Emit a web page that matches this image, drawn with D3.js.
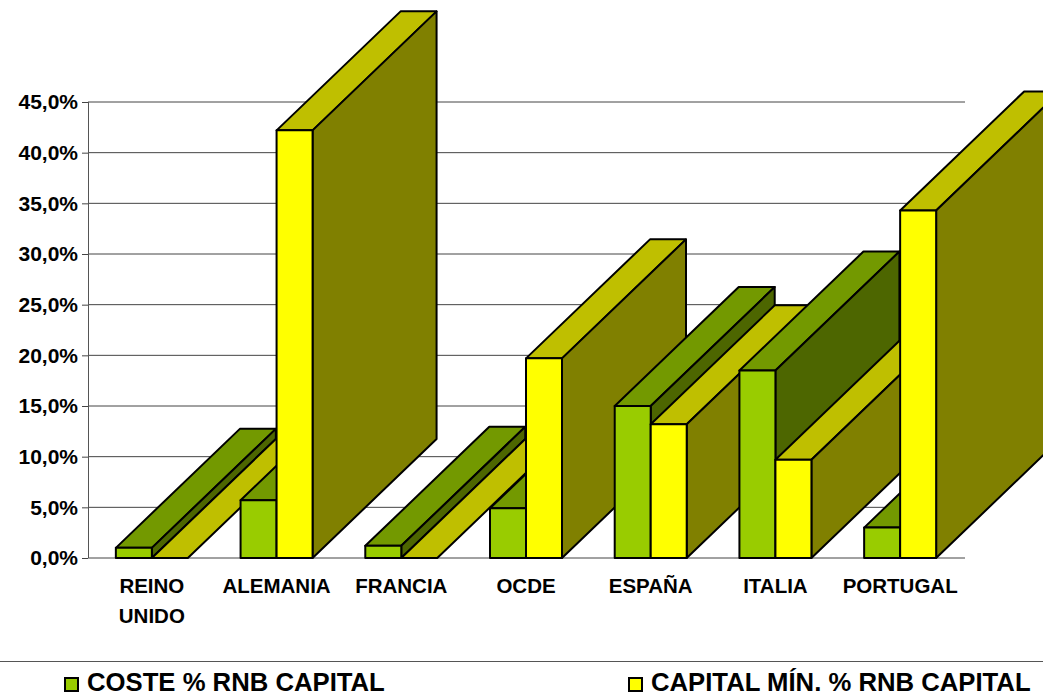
<!DOCTYPE html>
<html>
<head>
<meta charset="utf-8">
<script src="https://d3js.org/d3.v7.min.js"></script>
<style>
html, body { margin: 0; padding: 0; background: #fff; overflow: hidden; }
text { font-family: "Liberation Sans", Arial, sans-serif; font-weight: bold; fill: #000; }
</style>
</head>
<body>
<div id="chart-area"></div>
<script>
// values
let categories = ["REINO UNIDO", "ALEMANIA", "FRANCIA", "OCDE", "ESPAÑA", "ITALIA", "PORTUGAL"];
let coste = [1.0, 5.7, 1.2, 4.9, 15.0, 18.5, 3.0];
let capital = [0, 42.2, 0, 19.7, 13.2, 9.7, 34.3];
let seriesNames = ["COSTE % RNB CAPITAL", "CAPITAL MÍN. % RNB CAPITAL"];
let yTicks = [0, 5, 10, 15, 20, 25, 30, 35, 40, 45];

let colors = [
    { front: "#99cc00", top: "#739900", side: "#4d6600" },
    { front: "#ffff00", top: "#bfbf00", side: "#808000" }
];

let width = 1043, height = 696;
let depthX = 124, depthY = 119;

let svg = d3.select("#chart-area")
            .append("svg")
            .attr("width", width)
            .attr("height", height)
            .style("display", "block");

let x = d3.scaleBand()
        .domain(categories)
        .range([89.5, 962.5]);

let inner = d3.scaleBand()
        .domain([0, 1])
        .range([0, 72]);

let y = d3.scaleLinear()
        .domain([0, 45])
        .range([558, 102]);

let decimalComma = d3.formatLocale({ decimal: ",", thousands: ".", grouping: [3], currency: ["", "€"] });

// grid
svg.append("g")
    .selectAll("line")
    .data(yTicks)
    .enter()
    .append("line")
    .attr("x1", 88)
    .attr("x2", 965)
    .attr("y1", d => y(d))
    .attr("y2", d => y(d))
    .attr("stroke", "#444")
    .attr("stroke-width", 1);

// y axis
let yAxis = d3.axisLeft(y)
        .tickValues(yTicks)
        .tickSize(6)
        .tickPadding(4)
        .tickFormat(d => decimalComma.format(".1f")(d) + "%");

let yG = svg.append("g")
        .attr("transform", "translate(88,0)")
        .call(yAxis);

yG.select(".domain").attr("stroke", "#555").attr("d", `M0.5,${y(45)}V${y(0)}`);
yG.selectAll(".tick line").attr("stroke", "#444");
yG.selectAll(".tick text")
    .attr("font-size", 21)
    .attr("font-family", "Liberation Sans")
    .attr("font-weight", "bold")
    .attr("fill", "#000");

// x labels
let xLabels = svg.append("g")
        .selectAll("text")
        .data(categories)
        .enter()
        .append("text")
        .attr("text-anchor", "middle")
        .attr("font-size", 20.5);

xLabels.each(function(d) {
    let words = d === "REINO UNIDO" ? d.split(" ") : [d];
    let label = d3.select(this);
    words.forEach((w, i) => {
        label.append("tspan")
            .attr("x", x(d) + x.bandwidth() / 2)
            .attr("y", 593 + i * 30)
            .text(w);
    });
});

// bars, left to right so later ones cover earlier ones
let bars = [];
categories.forEach((c, i) => {
    bars.push({ cat: c, s: 0, value: coste[i] });
    bars.push({ cat: c, s: 1, value: capital[i] });
});

let barG = svg.append("g")
        .attr("stroke", "#000")
        .attr("stroke-width", 2)
        .attr("stroke-linejoin", "round");

bars.forEach(b => {
    let x0 = x(b.cat) + x.bandwidth() / 2 - 36 + inner(b.s);
    let x1 = x0 + inner.bandwidth();
    let y0 = y(0);
    let yv = y(b.value);
    let pts = (arr) => arr.map(p => p.join(",")).join(" ");

    barG.append("polygon")
        .attr("points", pts([[x0, yv], [x1, yv], [x1 + depthX, yv - depthY], [x0 + depthX, yv - depthY]]))
        .attr("fill", colors[b.s].top);

    if (b.value > 0) {
        barG.append("polygon")
            .attr("points", pts([[x1, yv], [x1 + depthX, yv - depthY], [x1 + depthX, y0 - depthY], [x1, y0]]))
            .attr("fill", colors[b.s].side);

        barG.append("rect")
            .attr("x", x0)
            .attr("y", yv)
            .attr("width", x1 - x0)
            .attr("height", y0 - yv)
            .attr("fill", colors[b.s].front);
    }
});

// legend
svg.append("line")
    .attr("x1", 0)
    .attr("x2", width)
    .attr("y1", 661.5)
    .attr("y2", 661.5)
    .attr("stroke", "#555");

let legendX = [64, 628];
seriesNames.forEach((name, i) => {
    svg.append("rect")
        .attr("x", legendX[i] + 1)
        .attr("y", 678)
        .attr("width", 13)
        .attr("height", 13)
        .attr("fill", colors[i].front)
        .attr("stroke", "#000")
        .attr("stroke-width", 2);
    svg.append("text")
        .attr("x", legendX[i] + 23)
        .attr("y", 691)
        .attr("font-size", 25.7)
        .text(name);
});
</script>
</body>
</html>
